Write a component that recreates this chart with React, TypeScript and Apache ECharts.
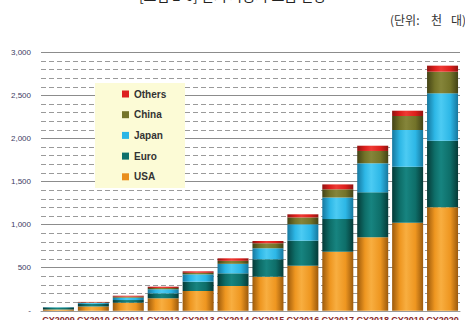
import React, { useEffect, useRef } from "react";
import * as echarts from "echarts";

const categories = ["CY2009", "CY2010", "CY2011", "CY2012", "CY2013", "CY2014", "CY2015", "CY2016", "CY2017", "CY2018", "CY2019", "CY2020"];
const usa = [15, 50, 94, 145, 230, 288, 396, 523, 686, 853, 1023, 1201];
const euro = [18, 30, 31, 58, 108, 147, 202, 291, 379, 522, 649, 773];
const japan = [8, 12, 27, 47, 85, 110, 127, 190, 250, 337, 426, 550];
const china = [2, 5, 12, 15, 18, 35, 58, 80, 95, 143, 163, 251];
const others = [2, 6, 11, 15, 17, 29, 27, 36, 57, 61, 61, 70];
const yTicks = [0, 500, 1000, 1500, 2000, 2500, 3000];

const grad = (edge: string, mid: string, light: string) =>
  new echarts.graphic.LinearGradient(0, 0, 1, 0, [
    { offset: 0, color: edge },
    { offset: 0.25, color: mid },
    { offset: 0.45, color: light },
    { offset: 0.75, color: mid },
    { offset: 1, color: edge },
  ]);

const seriesDefs = [
  { name: "USA", data: usa, flat: "#E98E1C", fill: grad("#9C5A0C", "#EE9620", "#F8AE40") },
  { name: "Euro", data: euro, flat: "#0E6F6B", fill: grad("#053A37", "#0E6E69", "#178480") },
  { name: "Japan", data: japan, flat: "#2BB6E6", fill: grad("#16779E", "#2DB7E6", "#4CCBF3") },
  { name: "China", data: china, flat: "#75752A", fill: grad("#434316", "#737329", "#85853A") },
  { name: "Others", data: others, flat: "#DD2020", fill: grad("#921210", "#DD1F1C", "#EE3A34") },
];

const unitStyle = { fontSize: 12, fontFamily: "Noto Sans CJK KR", fill: "#333" };

export default function App() {
  const ref = useRef<HTMLDivElement>(null);
  useEffect(() => {
    if (!ref.current) return;
    const chart = echarts.init(ref.current, undefined, { renderer: "svg" });
    chart.setOption({
      animation: false,
      backgroundColor: "#ffffff",
      grid: { left: 41, right: 5, top: 52.3, bottom: 9.2, containLabel: false, outerBoundsMode: "none" },
      graphic: [
        {
          type: "text",
          left: "center",
          top: -12,
          z: 10,
          style: {
            text: "[그림 2-6] 전기 자동차 보급 전망",
            fontSize: 14,
            fontFamily: "Noto Sans CJK KR",
            fill: "#222",
          },
        },
        { type: "text", x: 390, y: 13, z: 10, style: { ...unitStyle, text: "(단위:" } },
        { type: "text", x: 431, y: 13, z: 10, style: { ...unitStyle, text: "천" } },
        { type: "text", x: 451, y: 13, z: 10, style: { ...unitStyle, text: "대)" } },
        {
          type: "rect",
          z: 3,
          shape: { x: 95, y: 83, width: 90, height: 105 },
          style: { fill: "#FCFBD6" },
        },
      ],
      legend: {
        orient: "vertical",
        left: 117,
        top: 84,
        z: 5,
        itemWidth: 7,
        itemHeight: 7,
        itemGap: 10.7,
        icon: "rect",
        textStyle: { fontSize: 10, fontWeight: "bold", color: "#333", fontFamily: "Arial, Liberation Sans, sans-serif", lineHeight: 10 },
        data: ["Others", "China", "Japan", "Euro", "USA"].map((n) => ({
          name: n,
          itemStyle: { color: seriesDefs.find((s) => s.name === n)!.flat },
        })),
      },
      xAxis: {
        type: "category",
        data: categories,
        axisLine: { show: true, lineStyle: { color: "#999", width: 1 } },
        axisTick: { show: false },
        axisLabel: {
          margin: 5,
          fontSize: 9,
          fontWeight: "bold",
          color: "#8a2a2a",
          interval: 0,
          fontFamily: "Arial, Liberation Sans, sans-serif",
        },
      },
      yAxis: [
        {
          type: "value",
          min: 0,
          max: 3000,
          interval: 100,
          position: "left",
          axisLine: { show: false },
          axisTick: { show: false },
          axisLabel: { show: false },
          splitLine: { show: true, lineStyle: { color: "#9a9a9a", width: 1, type: [5, 3] } },
        },
        {
          type: "value",
          min: 0,
          max: 3000,
          interval: 500,
          position: "left",
          axisLine: { show: false },
          axisTick: { show: false },
          axisLabel: {
            margin: 10,
            fontSize: 8,
            color: "#3c3c64",
            fontFamily: "Arial, Liberation Sans, sans-serif",
            formatter: (v: number) => (yTicks.includes(v) ? (v === 0 ? "-" : v.toLocaleString("en-US")) : ""),
          },
          splitLine: { show: true, lineStyle: { color: "#8c8c8c", width: 1, type: "solid" } },
        },
      ],
      series: seriesDefs.map((s) => ({
        name: s.name,
        type: "bar",
        stack: "total",
        yAxisIndex: 0,
        barWidth: 31,
        data: s.data,
        itemStyle: { color: s.fill },
      })),
    });
    return () => chart.dispose();
  }, []);
  return <div ref={ref} style={{ position: "absolute", left: 0, top: 0, width: 465, height: 320 }} />;
}
